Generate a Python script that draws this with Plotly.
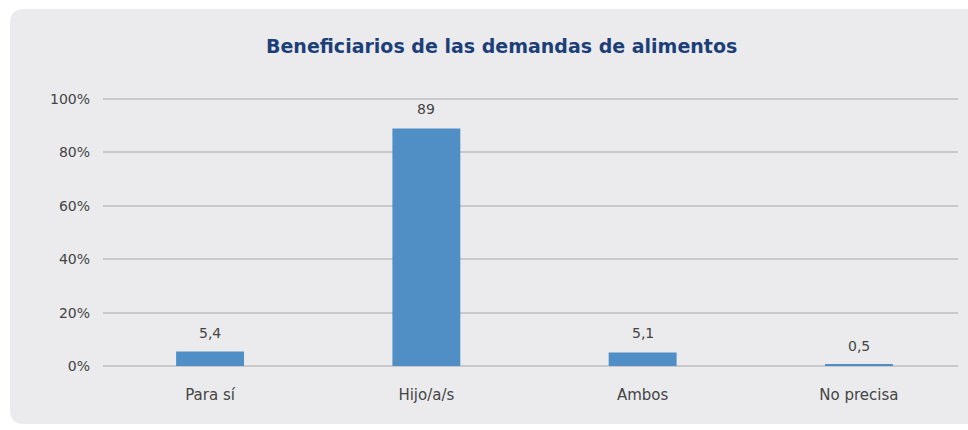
import plotly.graph_objects as go

categories = ["Para sí", "Hijo/a/s", "Ambos", "No precisa"]
values = [5.4, 89, 5.1, 0.5]
tick_vals = [0, 20, 40, 60, 80, 100]
tick_text = ["0%", "20%", "40%", "60%", "80%", "100%"]
title_text = "Beneficiarios de las demandas de alimentos"

W, H = 968, 430
L, R, T, B = 103, 10, 98, 64
PW, PH = W - L - R, H - T - B
PANEL = "#ebebee"

def px_x(px):
    return (px - L) / PW

def px_y(py):
    return (H - B - py) / PH

def P(px, py):
    return f"{px_x(px):.5f},{px_y(py):.5f}"

labels = [f"{v:g}".replace(".", ",") for v in values]
FONT = "DejaVu Sans, sans-serif"

fig = go.Figure()
fig.add_trace(go.Bar(
    x=categories, y=values,
    marker=dict(color="#4f8fc5", line=dict(width=0)),
    width=0.314,
))
for c, v, t in zip(categories, values, labels):
    fig.add_annotation(x=c, y=v, text=t, showarrow=False, yanchor="bottom",
                       yshift=9, font=dict(family=FONT, size=14, color="#444444"))

# white page around the grey rounded panel
x0, y0, y1, r = 10, 9, 424, 14
white_paths = [
    f"M {P(-5, -5)} L {P(980, -5)} L {P(980, y0)} L {P(-5, y0)} Z",
    f"M {P(-5, -5)} L {P(x0, -5)} L {P(x0, 440)} L {P(-5, 440)} Z",
    f"M {P(-5, y1)} L {P(980, y1)} L {P(980, 440)} L {P(-5, 440)} Z",
    f"M {P(x0, y0)} L {P(x0 + r, y0)} Q {P(x0, y0)} {P(x0, y0 + r)} Z",
    f"M {P(x0, y1)} L {P(x0 + r, y1)} Q {P(x0, y1)} {P(x0, y1 - r)} Z",
]
for p in white_paths:
    fig.add_shape(type="path", path=p, xref="paper", yref="paper",
                  fillcolor="white", line=dict(width=0), layer="below")

fig.add_annotation(text=f"<b>{title_text}</b>", xref="paper", yref="paper",
                   x=px_x(501), y=px_y(46), showarrow=False,
                   xanchor="center", yanchor="middle",
                   font=dict(family=FONT, size=19, color="#1d3f78"))

fig.update_layout(
    width=W, height=H,
    margin=dict(l=L, r=R, t=T, b=B, autoexpand=False),
    paper_bgcolor=PANEL, plot_bgcolor="rgba(0,0,0,0)",
    showlegend=False,
    font=dict(family=FONT, size=14, color="#444444"),
)
fig.update_yaxes(range=[0, 100.4], tickvals=tick_vals, ticktext=tick_text,
                 showgrid=True, gridcolor="#c9c9cd", gridwidth=2,
                 zeroline=True, zerolinecolor="#c9c9cd", zerolinewidth=2,
                 ticks="", ticklabelstandoff=12,
                 tickfont=dict(family=FONT, size=14, color="#444444"))
fig.update_xaxes(range=[-0.495, 3.458], showgrid=False, showline=False, ticks="",
                 ticklabelstandoff=18,
                 tickfont=dict(family=FONT, size=15, color="#444444"))

fig.write_html("out.html", config={"displayModeBar": False},
               post_script="document.body.style.margin='0';document.body.style.overflow='hidden';")
